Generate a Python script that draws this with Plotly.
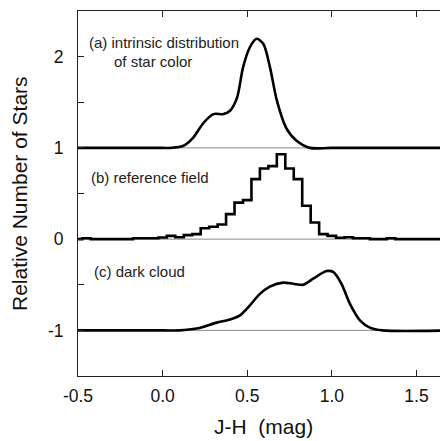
import plotly.graph_objects as go

# ---- data ----
offsets = [1, 0, -1]  # vertical offsets of panels (a), (b), (c)

a_x = [-0.5, 0.0, 0.05, 0.12, 0.18, 0.24, 0.30, 0.36, 0.40, 0.44, 0.475, 0.515, 0.556, 0.595, 0.635, 0.675, 0.73, 0.79, 0.87, 1.0, 1.7]
a_y = [0, 0, 0, 0.02, 0.11, 0.27, 0.37, 0.37, 0.41, 0.55, 0.88, 1.10, 1.195, 1.14, 0.88, 0.52, 0.22, 0.08, 0, 0, 0]

b_centers = [round(-0.5 + 0.05 * i, 2) for i in range(45)]
b_values = [0, 0.01, 0, 0, 0, 0, 0, 0.01, 0.01, 0.01,
            0.018, 0.036, 0.02, 0.044, 0.055, 0.12, 0.135, 0.16, 0.274, 0.40,
            0.427, 0.657, 0.774, 0.80, 0.93, 0.774, 0.657, 0.365, 0.183, 0.055,
            0.036, 0.015, 0.02, 0.01, 0.01, 0, 0, 0.01, 0, 0,
            0, 0, 0, 0, 0]

c_x = [-0.5, 0.0, 0.10, 0.20, 0.32, 0.40, 0.457, 0.516, 0.575, 0.634, 0.713, 0.772, 0.831, 0.89, 0.969, 1.008, 1.057, 1.107, 1.166, 1.225, 1.30, 1.7]
c_y = [0, 0, 0, 0.02, 0.085, 0.12, 0.164, 0.274, 0.40, 0.48, 0.523, 0.511, 0.50, 0.566, 0.65, 0.64, 0.51, 0.29, 0.11, 0.03, 0, 0]

x_ticks = [-0.5, 0.0, 0.5, 1.0, 1.5]
x_ticktext = ["-0.5", "0.0", "0.5", "1.0", "1.5"]
y_ticks = [-1, -0.5, 0, 0.5, 1, 1.5, 2]
y_ticktext = ["-1", "", "0", "", "1", "", "2"]

labels = [("(a) intrinsic distribution", -0.445, 2.15),
          ("of star color", -0.30, 1.945),
          ("(b) reference field", -0.434, 0.68),
          ("(c) dark cloud", -0.419, -0.354)]

X_RANGE = [-0.5, 1.6865]
Y_RANGE = [-1.5, 2.5]

FONT = "Liberation Sans, Arial, sans-serif"

fig = go.Figure()

# baselines
for off in offsets:
    fig.add_shape(type="line", xref="paper", yref="y", x0=0, x1=1, y0=off, y1=off,
                  line=dict(color="#8a8a8a", width=1), layer="below")

curve = dict(color="black", width=2.6)
fig.add_trace(go.Scatter(x=a_x, y=[v + offsets[0] for v in a_y], mode="lines",
                         line=dict(shape="spline", smoothing=0.8, **curve)))
fig.add_trace(go.Scatter(x=b_centers, y=[v + offsets[1] for v in b_values], mode="lines",
                         line=dict(shape="hvh", **curve)))
fig.add_trace(go.Scatter(x=c_x, y=[v + offsets[2] for v in c_y], mode="lines",
                         line=dict(shape="spline", smoothing=0.8, **curve)))

for txt, x, y in labels:
    fig.add_annotation(x=x, y=y, xref="x", yref="y", text=txt, showarrow=False,
                       xanchor="left", yanchor="middle",
                       font=dict(family=FONT, size=15, color="#222"))

fig.add_annotation(x=0.5, y=-0.138, xref="paper", yref="paper", text="J-H\u00a0 (mag)",
                   showarrow=False, xanchor="center", yanchor="middle",
                   font=dict(family=FONT, size=21, color="#111"))
fig.add_annotation(x=-0.158, y=0.5, xref="paper", yref="paper", text="Relative Number of Stars",
                   showarrow=False, textangle=-90, xanchor="center", yanchor="middle",
                   font=dict(family=FONT, size=21, color="#111"))

axis_common = dict(showgrid=False, zeroline=False, showline=True, linecolor="#222", linewidth=1,
                   mirror="ticks", ticks="inside", ticklen=6, tickwidth=1, tickcolor="#222",
                   automargin=False,
                   tickfont=dict(family=FONT, size=17.5, color="#111"))

fig.update_layout(
    width=440, height=433,
    margin=dict(l=70, r=0, t=3, b=65, autoexpand=False),
    paper_bgcolor="white", plot_bgcolor="white",
    showlegend=False,
    xaxis=dict(range=X_RANGE, tickvals=x_ticks, ticktext=x_ticktext, ticklabelstandoff=4, **axis_common),
    yaxis=dict(range=Y_RANGE, tickvals=y_ticks, ticktext=y_ticktext, ticklabelstandoff=10, **axis_common),
)

fig.write_html("out.html")
